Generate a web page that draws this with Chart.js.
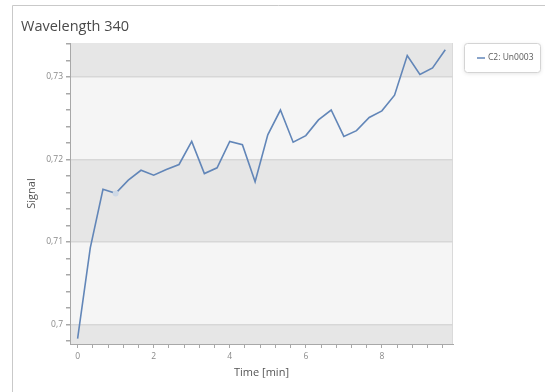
<!DOCTYPE html>
<html>
<head>
<meta charset="utf-8">
<script src="https://cdn.jsdelivr.net/npm/chart.js@4/dist/chart.umd.min.js"></script>
<style>
  html, body { margin: 0; padding: 0; background: #fff; }
  #wrap { position: relative; width: 545px; height: 392px; }
</style>
</head>
<body>
<div id="wrap"><canvas id="signalChart" width="545" height="392"></canvas></div>
<script>
// Measurement times (min) and absorbance signal at 340 nm
const times = [0, 0.333, 0.667, 1, 1.333, 1.667, 2, 2.333, 2.667, 3,
               3.333, 3.667, 4, 4.333, 4.667, 5, 5.333, 5.667, 6, 6.333,
               6.667, 7, 7.333, 7.667, 8, 8.333, 8.667, 9, 9.333, 9.667];
const signal = [0.6983, 0.7093, 0.7164, 0.7159, 0.7175, 0.7187, 0.7181, 0.7188, 0.7194, 0.7222,
                0.7183, 0.7190, 0.7222, 0.7218, 0.7173, 0.7230, 0.7260, 0.7221, 0.7229, 0.7248,
                0.7260, 0.7228, 0.7235, 0.7251, 0.7259, 0.7278, 0.7326, 0.7303, 0.7311, 0.7333];

const seriesName = 'C2: Un0003';
const xTickLabels = [0, 2, 4, 6, 8];
const yTickLabels = [0.70, 0.71, 0.72, 0.73];
const xMinorStep = 0.4;
const yMinorStep = 0.002;
const markedPoint = 3;

const lineColor = '#6286b8';
const darkBand = '#e6e6e6';
const lightBand = '#f5f5f5';

function isMajor(v, list) {
  return list.some(t => Math.abs(t - v) < 1e-6);
}

// minor tick positions between the axis limits
function stepTicks(min, max, step) {
  const out = [];
  for (let k = Math.ceil(min / step - 1e-6); k * step <= max + 1e-9; k++) {
    out.push({ value: +(k * step).toFixed(6) });
  }
  return out;
}

// alternating grey bands + frame, title and legend box
const decor = {
  id: 'decor',
  beforeDraw(chart) {
    const { ctx, chartArea: a, scales: { y } } = chart;
    ctx.save();
    // outer panel border
    ctx.strokeStyle = '#c9c9c9';
    ctx.lineWidth = 1;
    ctx.beginPath();
    ctx.moveTo(12.5, 392);
    ctx.lineTo(12.5, 5.5);
    ctx.lineTo(545, 5.5);
    ctx.stroke();

    ctx.fillStyle = darkBand;
    ctx.fillRect(a.left, a.top, a.right - a.left, a.bottom - a.top);
    ctx.fillStyle = lightBand;
    for (let i = 0; i + 1 < yTickLabels.length; i += 2) {
      const y0 = y.getPixelForValue(yTickLabels[i]);
      const y1 = y.getPixelForValue(yTickLabels[i + 1]);
      ctx.fillRect(a.left, y1, a.right - a.left, y0 - y1);
    }
    ctx.strokeStyle = '#dadada';
    ctx.beginPath();
    ctx.moveTo(a.right - 0.5, a.top);
    ctx.lineTo(a.right - 0.5, a.bottom);
    ctx.stroke();

    ctx.fillStyle = '#4a4a4a';
    ctx.font = '14.5px "Open Sans", sans-serif';
    ctx.textBaseline = 'middle';
    ctx.fillText('Wavelength 340', 21, 27);
    ctx.restore();
  },
  afterDraw(chart) {
    const { ctx } = chart;
    const bx = 464.5, by = 43.5, bw = 76, bh = 29;
    ctx.save();
    ctx.shadowColor = 'rgba(0,0,0,0.12)';
    ctx.shadowBlur = 4;
    ctx.shadowOffsetY = 1;
    ctx.fillStyle = '#fff';
    ctx.beginPath();
    ctx.roundRect(bx, by, bw, bh, 3);
    ctx.fill();
    ctx.shadowColor = 'transparent';
    ctx.strokeStyle = '#d4d4d4';
    ctx.stroke();
    ctx.strokeStyle = lineColor;
    ctx.lineWidth = 1.5;
    ctx.beginPath();
    ctx.moveTo(477, 58);
    ctx.lineTo(485, 58);
    ctx.stroke();
    ctx.fillStyle = '#5a5a5a';
    ctx.font = '8.5px "Open Sans", sans-serif';
    ctx.textBaseline = 'middle';
    ctx.fillText(seriesName, 488, 58);
    ctx.restore();
  }
};

new Chart(document.getElementById('signalChart'), {
  type: 'line',
  data: {
    datasets: [{
      label: seriesName,
      data: times.map((t, i) => ({ x: t, y: signal[i] })),
      borderColor: lineColor,
      borderWidth: 1.6,
      tension: 0,
      pointRadius: c => c.dataIndex === markedPoint ? 3 : 0,
      pointBackgroundColor: '#cdd8e6',
      pointBorderColor: '#cdd8e6',
      pointBorderWidth: 0
    }]
  },
  options: {
    responsive: false,
    animation: false,
    layout: { padding: { left: 0, top: 43, right: 92, bottom: 0 } },
    plugins: { legend: { display: false }, tooltip: { enabled: false } },
    scales: {
      x: {
        type: 'linear',
        min: -0.2,
        max: 9.87,
        afterBuildTicks: s => { s.ticks = stepTicks(0, s.max, xMinorStep); },
        afterFit: s => { s.height = 48; },
        border: { color: '#a8a8a8', width: 1 },
        grid: {
          drawOnChartArea: false,
          tickLength: 4,
          tickColor: '#a8a8a8'
        },
        ticks: {
          autoSkip: false,
          maxRotation: 0,
          padding: 3,
          color: '#8a8a8a',
          font: { family: '"Open Sans", sans-serif', size: 8.5 },
          callback: v => isMajor(v, xTickLabels) ? String(Math.round(v)) : ''
        },
        title: {
          display: true,
          text: 'Time [min]',
          color: '#555',
          font: { family: '"Open Sans", sans-serif', size: 11 },
          padding: { top: 0, bottom: 13 }
        }
      },
      y: {
        min: 0.69765,
        max: 0.73412,
        afterBuildTicks: s => { s.ticks = stepTicks(s.min, s.max, yMinorStep); },
        afterFit: s => { s.width = 70; },
        border: { color: '#a8a8a8', width: 1 },
        grid: {
          color: c => isMajor(c.tick.value, yTickLabels) ? '#d7d7d7' : 'transparent',
          lineWidth: 1.5,
          tickLength: 4,
          tickColor: '#a8a8a8'
        },
        ticks: {
          autoSkip: false,
          padding: 3,
          color: '#8a8a8a',
          font: { family: '"Open Sans", sans-serif', size: 8.5 },
          callback: v => isMajor(v, yTickLabels) ? String(+v.toFixed(2)).replace('.', ',') : ''
        },
        title: {
          display: true,
          text: 'Signal',
          color: '#555',
          font: { family: '"Open Sans", sans-serif', size: 11 },
          padding: { top: 25, bottom: 0 }
        }
      }
    }
  },
  plugins: [decor]
});
</script>
</body>
</html>
